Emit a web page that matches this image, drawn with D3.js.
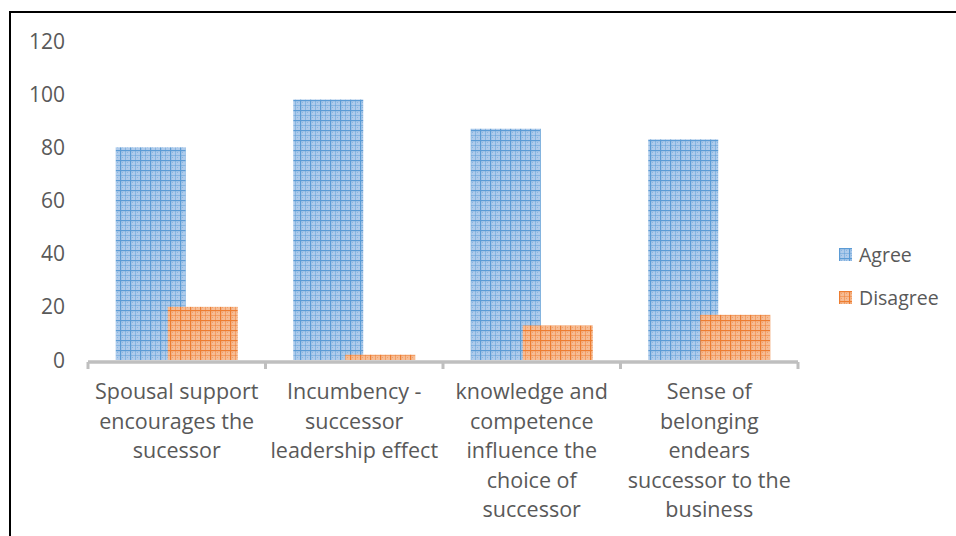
<!DOCTYPE html>
<html>
<head>
<meta charset="utf-8">
<script src="https://cdn.jsdelivr.net/npm/d3@7"></script>
<style>
  html, body { margin: 0; padding: 0; background: #fff; }
  svg text { font-family: "Open Sans", "Noto Sans", sans-serif; fill: #595959; }
</style>
</head>
<body>
<svg id="chart" width="956" height="536"></svg>
<script>
// Survey statements (x-axis categories), wrapped as drawn
const categories = [
  "Spousal support encourages the sucessor",
  "Incumbency - successor leadership effect",
  "knowledge and competence influence the choice of successor",
  "Sense of belonging endears successor to the business"
];
const categoryLines = [
  ["Spousal support", "encourages the", "sucessor"],
  ["Incumbency -", "successor", "leadership effect"],
  ["knowledge and", "competence", "influence the", "choice of", "successor"],
  ["Sense of", "belonging", "endears", "successor to the", "business"]
];
const seriesNames = ["Agree", "Disagree"];
const agree = [80, 98, 87, 83];
const disagree = [20, 2, 13, 17];
const yTicks = [0, 20, 40, 60, 80, 100, 120];

const svg = d3.select("#chart");
const W = 956, H = 536;
const plot = { left: 88, right: 798, top: 41, bottom: 360 };

const x = d3.scaleBand().domain(categories).range([plot.left, plot.right]).padding(0);
const y = d3.scaleLinear().domain([0, 120]).range([plot.bottom, plot.top]);

// Hatched fills for the two series
const defs = svg.append("defs");
function gridPattern(id, light, dark) {
  const p = defs.append("pattern").attr("id", id)
    .attr("patternUnits", "userSpaceOnUse").attr("width", 10).attr("height", 10);
  p.append("rect").attr("width", 10).attr("height", 10).attr("fill", light);
  p.append("rect").attr("x", 0).attr("y", 0).attr("width", 10).attr("height", 1.2).attr("fill", dark);
  p.append("rect").attr("x", 0).attr("y", 0).attr("width", 1.2).attr("height", 10).attr("fill", dark);
  p.append("rect").attr("x", 0).attr("y", 5).attr("width", 10).attr("height", 0.8).attr("fill", dark).attr("opacity", 0.6);
  p.append("rect").attr("x", 5).attr("y", 0).attr("width", 0.8).attr("height", 10).attr("fill", dark).attr("opacity", 0.6);
  [[2.5, 2.5], [7.5, 7.5], [2.5, 7.5], [7.5, 2.5]].forEach(([cx, cy]) =>
    p.append("rect").attr("x", cx - 0.5).attr("y", cy - 0.5).attr("width", 1).attr("height", 1).attr("fill", dark).attr("opacity", 0.45));
  return `url(#${id})`;
}
const fills = [
  gridPattern("patAgree", "#aecbeb", "#5b9bd5"),
  gridPattern("patDisagree", "#f6bc94", "#ed7d31")
];

// Frame (top and left edges)
svg.append("line").attr("x1", 10).attr("x2", W).attr("y1", 12).attr("y2", 12)
  .attr("stroke", "#000").attr("stroke-width", 2);
svg.append("line").attr("x1", 10).attr("x2", 10).attr("y1", 11).attr("y2", H)
  .attr("stroke", "#000").attr("stroke-width", 2);

// Y tick labels
svg.append("g").selectAll("text").data(yTicks).join("text")
  .attr("x", 65).attr("y", d => y(d))
  .attr("dy", "0.36em").attr("text-anchor", "end")
  .attr("font-size", 21).text(d => d);

// Bars
const barW = 70, offset = 52;
const series = [agree, disagree];
series.forEach((vals, s) => {
  svg.append("g").selectAll("rect").data(vals).join("rect")
    .attr("x", (d, i) => x(categories[i]) + x.bandwidth() / 2 - (barW + offset) / 2 + s * offset)
    .attr("y", d => y(d))
    .attr("width", barW)
    .attr("height", d => y(0) - y(d))
    .attr("fill", fills[s]);
});

// X axis baseline and tick marks
const xAxis = d3.axisBottom(x).tickSize(0).tickFormat("");
const gx = svg.append("g").attr("transform", `translate(0,${y(0) + 2})`).call(xAxis);
gx.select(".domain").attr("stroke", "#bfbfbf").attr("stroke-width", 3.5)
  .attr("d", `M${plot.left},0H${plot.right}`);
const boundaries = categories.map(c => x(c)).concat([plot.right]);
gx.selectAll(".bound").data(boundaries).join("line").attr("class", "bound")
  .attr("x1", d => d).attr("x2", d => d).attr("y1", 0).attr("y2", 7)
  .attr("stroke", "#bfbfbf").attr("stroke-width", 3);

// Category labels
const labels = svg.append("g").selectAll("text").data(categories).join("text")
  .attr("text-anchor", "middle").attr("font-size", 21.5);
labels.each(function (c, i) {
  const t = d3.select(this);
  categoryLines[i].forEach((line, k) => {
    t.append("tspan").attr("x", x(c) + x.bandwidth() / 2)
      .attr("y", 399 + k * 29.6).text(line);
  });
});

// Legend
const legend = svg.append("g").selectAll("g").data(seriesNames).join("g")
  .attr("transform", (d, i) => `translate(839,${248 + i * 43})`);
legend.append("rect").attr("width", 13).attr("height", 13).attr("fill", (d, i) => fills[i]);
legend.append("text").attr("x", 20).attr("y", 6.5).attr("dy", "0.36em")
  .attr("font-size", 19.5).text(d => d);
</script>
</body>
</html>
